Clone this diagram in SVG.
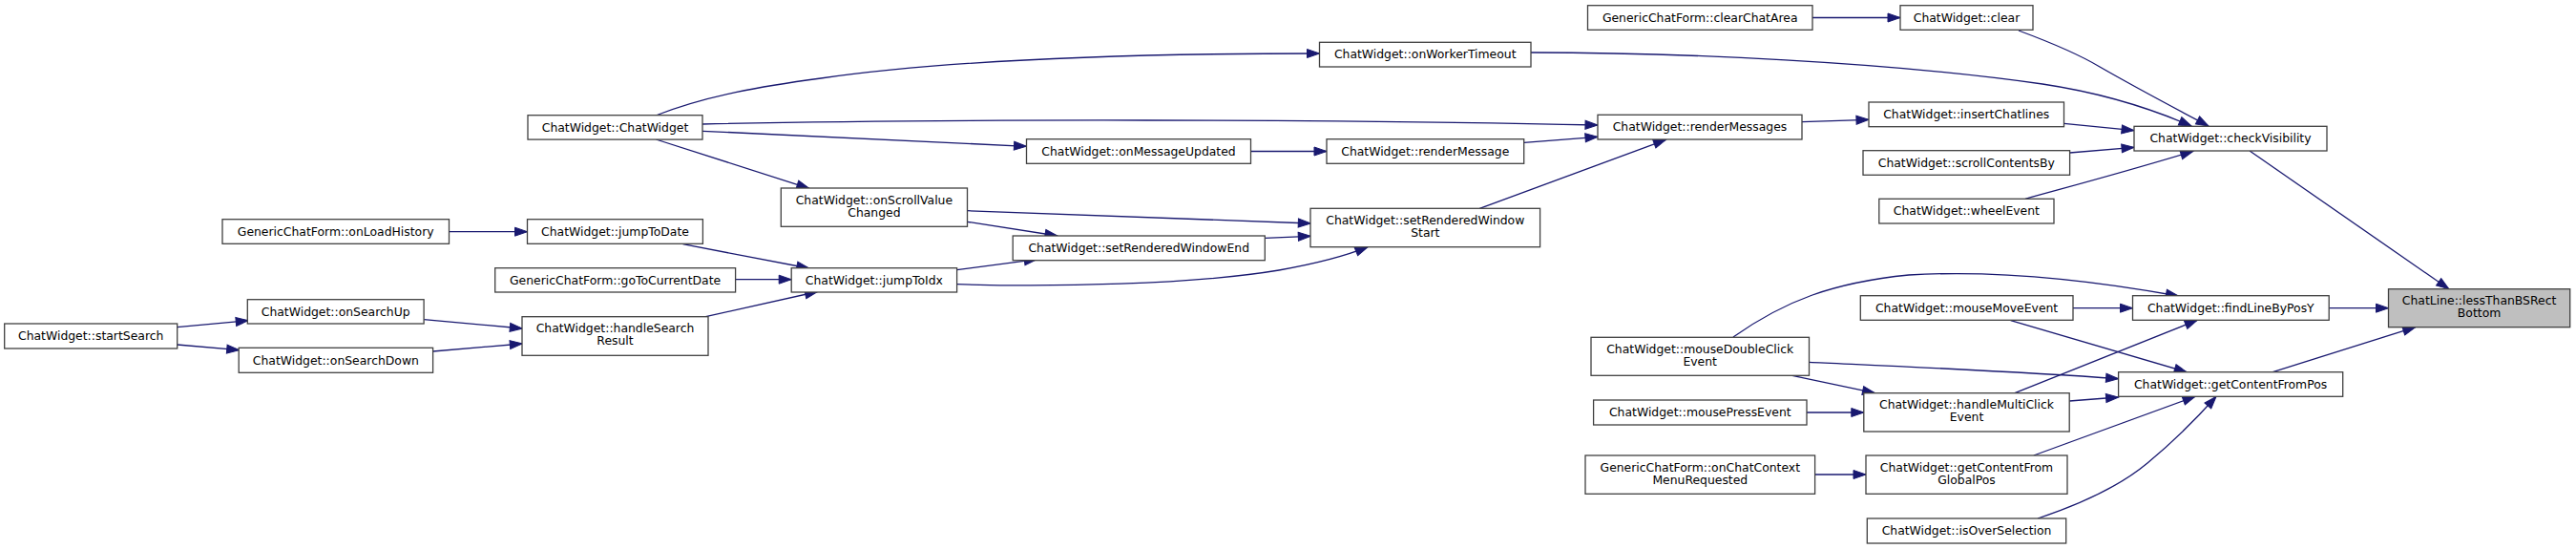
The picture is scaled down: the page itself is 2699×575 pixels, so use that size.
<svg xmlns="http://www.w3.org/2000/svg" width="2699" height="575" viewBox="0 0 2699 575">
<style>
.n rect{fill:#ffffff;stroke:#404040;stroke-width:1.3}
.n.hl rect{fill:#bfbfbf}
.n text{font-family:"DejaVu Sans","Liberation Sans",sans-serif;font-size:12.4px;fill:#000000;text-anchor:middle}
.e path{fill:none;stroke:#191970;stroke-width:1.3;marker-end:url(#arr)}
</style>
<defs>
<marker id="arr" markerWidth="14" markerHeight="10" refX="13" refY="4.5" orient="auto" markerUnits="userSpaceOnUse" overflow="visible">
<path d="M0,0 L13,4.5 L0,9 z" fill="#191970" stroke="#191970" stroke-width="1"/>
</marker>
</defs>
<rect width="2699" height="575" fill="#ffffff"/>
<g id="edges" class="e">
<path d="M1899,18.5 L1991,18.5"/>
<path d="M2115,32 C2150,45 2180,58 2200,70 C2240,93 2280,114 2314,132"/>
<path d="M1604,55 C1760,55 1980,65 2140,88 C2200,97 2250,112 2296,132"/>
<path d="M687,121 C740,100 800,90 860,82 C1000,62 1200,56 1382.5,56"/>
<path d="M736,130 C1000,124 1400,125 1674,131"/>
<path d="M736,137.3 L1075.5,153.3"/>
<path d="M687.3,146 L847.8,197.3"/>
<path d="M1310.5,158.5 L1390,158.5"/>
<path d="M1596.7,149.3 L1674,143.3"/>
<path d="M1888,127.7 L1958,125.3"/>
<path d="M2162.5,129.3 L2236,136.7"/>
<path d="M2168.6,160 L2236,154.3"/>
<path d="M2122,208.3 C2170,195 2220,182 2297.8,158.5"/>
<path d="M1550.3,218.3 L1745.5,146.3"/>
<path d="M1013.5,220.7 C1150,226 1280,231 1373.3,234"/>
<path d="M1013.5,232.3 L1108,247"/>
<path d="M1325.3,249.3 L1373.3,247.3"/>
<path d="M1002.6,282.7 L1086.3,271.7"/>
<path d="M1002.6,297.7 C1100,301 1250,298 1340,283 C1380,276 1410,268 1433,258.7"/>
<path d="M470.5,242.7 L552.5,242.7"/>
<path d="M715.5,255.7 L847.8,281"/>
<path d="M770.6,292.7 L829.2,292.7"/>
<path d="M739.4,331.7 L856.5,305.5"/>
<path d="M185.6,342.7 L260.2,335.7"/>
<path d="M185.6,361 L250.7,366.7"/>
<path d="M444.1,334.7 L547.3,344"/>
<path d="M453.6,368 L547.3,360"/>
<path d="M2357.1,158 L2565.8,302.7"/>
<path d="M2440.2,322.7 L2502.5,322.7"/>
<path d="M2381.3,389.7 L2530.7,342.7"/>
<path d="M1816,353 C1870,315 1920,296 2000,288 C2100,282 2200,295 2282.4,310"/>
<path d="M2172,322.7 L2234.5,322.7"/>
<path d="M2106.7,335.7 L2291.2,389.7"/>
<path d="M1895.5,379.3 C1950,382 2100,388 2219.6,396.7"/>
<path d="M1877.8,393.3 L1964.5,411.7"/>
<path d="M1893,432 L1952.8,432"/>
<path d="M2111,411.7 L2302.2,335.3"/>
<path d="M2168.2,420 L2219.6,416"/>
<path d="M1901.6,497 L1955,497"/>
<path d="M2130.8,477 L2300,415.3"/>
<path d="M2135,543 C2180,528 2220,510 2250,485 C2280,460 2300,440 2322,415.3"/>
</g>
<g id="n1" class="n hl"><rect x="2502.5" y="302.7" width="190.2" height="40"/><text x="2597.6" y="319.3">ChatLine::lessThanBSRect</text><text x="2597.6" y="332.3">Bottom</text></g>
<g id="n2" class="n"><rect x="2236" y="132.3" width="202" height="25.7"/><text x="2337" y="149.4">ChatWidget::checkVisibility</text></g>
<g id="n3" class="n"><rect x="1991" y="5.7" width="139" height="25.6"/><text x="2060.5" y="22.7">ChatWidget::clear</text></g>
<g id="n4" class="n"><rect x="1663.5" y="5.7" width="235.5" height="25.6"/><text x="1781.2" y="22.7">GenericChatForm::clearChatArea</text></g>
<g id="n5" class="n"><rect x="1382.5" y="44.3" width="221.5" height="25.7"/><text x="1493.2" y="61.4">ChatWidget::onWorkerTimeout</text></g>
<g id="n6" class="n"><rect x="553" y="120.7" width="183" height="25.4"/><text x="644.5" y="137.6">ChatWidget::ChatWidget</text></g>
<g id="n7" class="n"><rect x="1958" y="107" width="204.5" height="25.7"/><text x="2060.2" y="124.1">ChatWidget::insertChatlines</text></g>
<g id="n8" class="n"><rect x="1674" y="120.3" width="214" height="25.7"/><text x="1781" y="137.4">ChatWidget::renderMessages</text></g>
<g id="n9" class="n"><rect x="1390" y="145.7" width="206.7" height="25.6"/><text x="1493.3" y="162.7">ChatWidget::renderMessage</text></g>
<g id="n10" class="n"><rect x="1075.5" y="145.7" width="235" height="25.6"/><text x="1193" y="162.7">ChatWidget::onMessageUpdated</text></g>
<g id="n11" class="n"><rect x="1373" y="218.3" width="240.6" height="40.4"/><text x="1493.3" y="235">ChatWidget::setRenderedWindow</text><text x="1493.3" y="248">Start</text></g>
<g id="n12" class="n"><rect x="818.3" y="197" width="195.2" height="40.3"/><text x="915.9" y="213.6">ChatWidget::onScrollValue</text><text x="915.9" y="226.6">Changed</text></g>
<g id="n13" class="n"><rect x="1061.2" y="247" width="264.1" height="25.7"/><text x="1193.2" y="264.1">ChatWidget::setRenderedWindowEnd</text></g>
<g id="n14" class="n"><rect x="829.2" y="280.7" width="173.4" height="25.3"/><text x="915.9" y="297.6">ChatWidget::jumpToIdx</text></g>
<g id="n15" class="n"><rect x="552.5" y="229.7" width="183.9" height="25.6"/><text x="644.5" y="246.7">ChatWidget::jumpToDate</text></g>
<g id="n16" class="n"><rect x="233" y="229.7" width="237.5" height="25.6"/><text x="351.7" y="246.7">GenericChatForm::onLoadHistory</text></g>
<g id="n17" class="n"><rect x="518.7" y="280.7" width="251.9" height="25.3"/><text x="644.6" y="297.6">GenericChatForm::goToCurrentDate</text></g>
<g id="n18" class="n"><rect x="547" y="331.7" width="195" height="40.6"/><text x="644.5" y="348.4">ChatWidget::handleSearch</text><text x="644.5" y="361.4">Result</text></g>
<g id="n19" class="n"><rect x="259.3" y="313.7" width="184.8" height="25.3"/><text x="351.7" y="330.6">ChatWidget::onSearchUp</text></g>
<g id="n20" class="n"><rect x="250.2" y="364.3" width="203.4" height="26"/><text x="351.9" y="381.5">ChatWidget::onSearchDown</text></g>
<g id="n21" class="n"><rect x="4.7" y="339" width="181" height="26"/><text x="95.2" y="356.2">ChatWidget::startSearch</text></g>
<g id="n22" class="n"><rect x="1952" y="157.7" width="216.6" height="25.6"/><text x="2060.3" y="174.7">ChatWidget::scrollContentsBy</text></g>
<g id="n23" class="n"><rect x="1968.8" y="208.3" width="183.2" height="25.7"/><text x="2060.4" y="225.4">ChatWidget::wheelEvent</text></g>
<g id="n24" class="n"><rect x="2234.5" y="309.7" width="205.7" height="25.6"/><text x="2337.3" y="326.7">ChatWidget::findLineByPosY</text></g>
<g id="n25" class="n"><rect x="2219.6" y="389.7" width="235.1" height="25.6"/><text x="2337.1" y="406.7">ChatWidget::getContentFromPos</text></g>
<g id="n26" class="n"><rect x="1949.3" y="309.7" width="222.7" height="25.6"/><text x="2060.6" y="326.7">ChatWidget::mouseMoveEvent</text></g>
<g id="n27" class="n"><rect x="1667" y="353.3" width="228.5" height="40"/><text x="1781.2" y="370">ChatWidget::mouseDoubleClick</text><text x="1781.2" y="383">Event</text></g>
<g id="n28" class="n"><rect x="1952.8" y="411.7" width="215.4" height="40.3"/><text x="2060.5" y="428.3">ChatWidget::handleMultiClick</text><text x="2060.5" y="441.3">Event</text></g>
<g id="n29" class="n"><rect x="1669.6" y="419" width="223.4" height="26"/><text x="1781.3" y="436.2">ChatWidget::mousePressEvent</text></g>
<g id="n30" class="n"><rect x="1661" y="477" width="240.6" height="40.3"/><text x="1781.3" y="493.6">GenericChatForm::onChatContext</text><text x="1781.3" y="506.6">MenuRequested</text></g>
<g id="n31" class="n"><rect x="1955" y="477" width="211" height="40.3"/><text x="2060.5" y="493.6">ChatWidget::getContentFrom</text><text x="2060.5" y="506.6">GlobalPos</text></g>
<g id="n32" class="n"><rect x="1956.3" y="543" width="208.4" height="26"/><text x="2060.5" y="560.2">ChatWidget::isOverSelection</text></g>
</svg>
